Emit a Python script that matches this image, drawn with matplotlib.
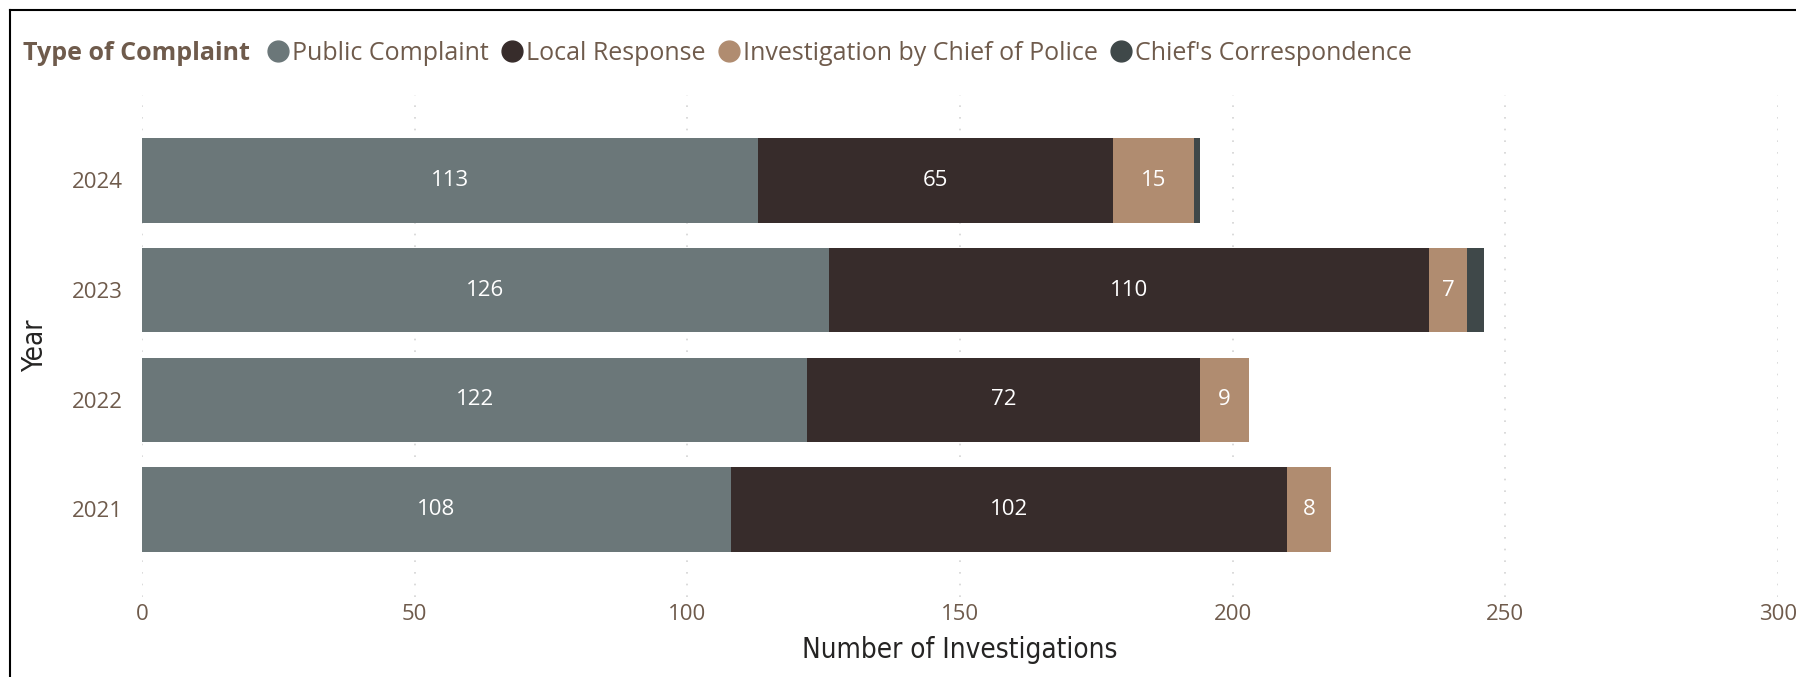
import matplotlib
matplotlib.use("Agg")
import matplotlib.pyplot as plt
from matplotlib.lines import Line2D
import numpy as np

years = ["2021", "2022", "2023", "2024"]
series_names = ["Public Complaint", "Local Response", "Investigation by Chief of Police", "Chief's Correspondence"]
public_complaint = [108, 122, 126, 113]
local_response = [102, 72, 110, 65]
investigation_chief = [8, 9, 7, 15]
chiefs_correspondence = [0, 0, 3, 1]
colors = ["#6B7779", "#372C2B", "#B08C70", "#3F4849"]
xticks = [0, 50, 100, 150, 200, 250, 300]

text_brown = "#6F5B4C"
dark = "#252423"
font = "Open Sans"

fig = plt.figure(figsize=(17.96, 6.77), dpi=100)
ax = fig.add_axes([142/1796, 80/677, (1778-142)/1796, (597-95)/677])

ypos = np.arange(len(years))
left = np.zeros(len(years))
all_series = [public_complaint, local_response, investigation_chief, chiefs_correspondence]
for name, vals, c in zip(series_names, all_series, colors):
    vals = np.array(vals, dtype=float)
    bars = ax.barh(ypos, vals, left=left, height=0.77, color=c, label=name, zorder=3)
    labels = [str(int(v)) if v >= 5 else "" for v in vals]
    ax.bar_label(bars, labels=labels, label_type="center", color="white",
                 fontsize=16, fontfamily=font)
    left += vals

ax.set_xlim(0, 300)
ax.set_ylim(-0.8, 3.78)
ax.set_xticks(xticks)
ax.set_yticks(ypos)
ax.set_yticklabels(years)
ax.tick_params(axis="both", length=0, labelsize=16, labelcolor=text_brown)
ax.tick_params(axis="y", pad=14)
ax.tick_params(axis="x", pad=5)
for lab in ax.get_xticklabels() + ax.get_yticklabels():
    lab.set_fontfamily(font)
ax.grid(axis="x", linestyle=(0, (1, 6)), color="#D4D4D4", linewidth=1.2, zorder=0)
for s in ax.spines.values():
    s.set_visible(False)

ax.set_xlabel("Number of Investigations", fontsize=20, color=dark, fontfamily="DejaVu Sans",
              fontstretch="condensed", fontweight="medium", labelpad=8)
ax.set_ylabel("Year", fontsize=20, color=dark, fontfamily="DejaVu Sans",
              fontstretch="condensed", fontweight="medium", labelpad=16)

# frame lines (left and top)
fig.add_artist(Line2D([10/1796, 10/1796], [0, 1 - 10/677], color="black", lw=1.5, transform=fig.transFigure))
fig.add_artist(Line2D([10/1796, 1], [1 - 10/677, 1 - 10/677], color="black", lw=1.5, transform=fig.transFigure))

# legend
fig.text(23/1796, 1 - 53/677, "Type of Complaint", fontsize=18, fontweight="bold", color=text_brown,
         fontfamily=font, va="center", ha="left")
handles = [Line2D([], [], marker="o", linestyle="", markersize=15, markerfacecolor=c,
                  markeredgecolor=c) for c in colors]
leg = fig.legend(handles, series_names, loc="center left", bbox_to_anchor=(264/1796, 1 - 53/677),
                 ncol=4, frameon=False, handletextpad=0.0, columnspacing=0.4, handlelength=1.1,
                 prop={"family": font, "size": 18}, borderaxespad=0, borderpad=0)
for t in leg.get_texts():
    t.set_color(text_brown)

fig.savefig("out.png", dpi=100, facecolor="white")
